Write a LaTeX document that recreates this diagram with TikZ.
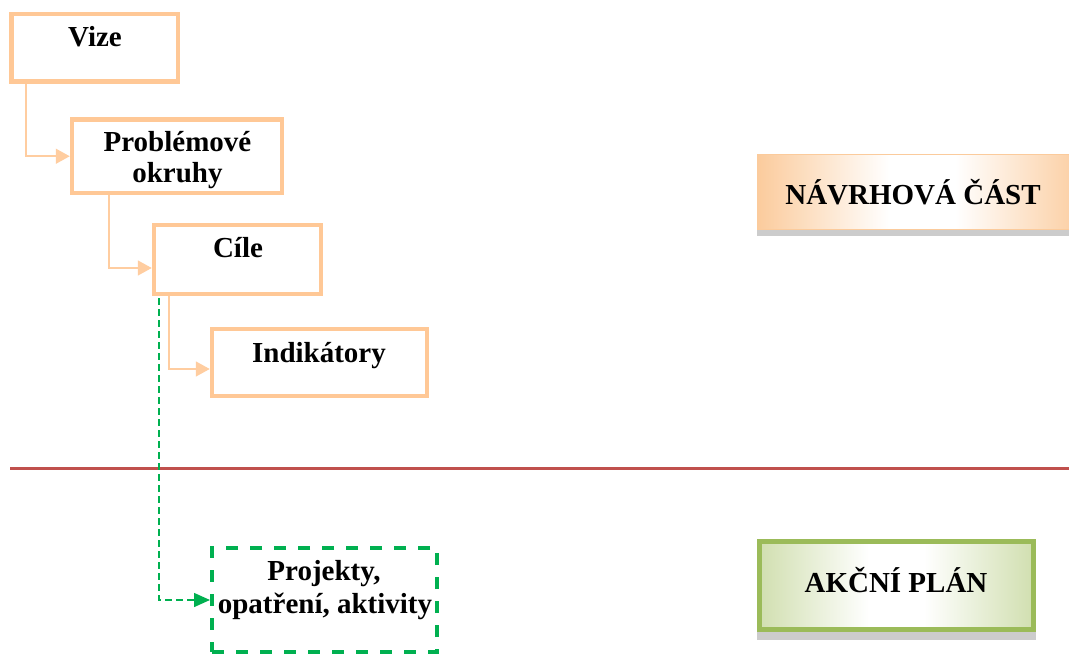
\documentclass[tikz,border=0pt]{standalone}
\usepackage{fontspec}
\setmainfont{Liberation Serif}
\usetikzlibrary{arrows.meta}
\definecolor{orbox}{RGB}{255,200,150}
\definecolor{orconn}{RGB}{255,205,160}
\definecolor{grdash}{RGB}{0,176,80}
\definecolor{redline}{RGB}{192,80,77}
\definecolor{orshade}{RGB}{251,203,156}
\definecolor{grborder}{RGB}{155,187,89}
\definecolor{grshade}{RGB}{209,223,176}
\pgfdeclarehorizontalshading{orshading}{100bp}{color(0bp)=(orshade); color(25bp)=(orshade); color(45bp)=(white); color(55bp)=(white); color(75bp)=(orshade); color(100bp)=(orshade)}
\pgfdeclarehorizontalshading{grshading}{100bp}{color(0bp)=(grshade); color(25bp)=(grshade); color(45bp)=(white); color(55bp)=(white); color(75bp)=(grshade); color(100bp)=(grshade)}
\tikzset{
  obox/.style={draw=orbox, line width=4.5pt, rectangle, inner sep=0pt, fill=white},
  gbox/.style={draw=grdash, line width=4pt, rectangle, inner sep=0pt, dash pattern=on 12pt off 12pt},
  txt/.style={anchor=base, inner sep=0pt, font=\fontsize{29}{31}\selectfont\bfseries, align=center},
  conn/.style={draw=orconn, line width=1.5pt, -{Triangle[length=14pt,width=15pt]}},
  gconn/.style={draw=grdash, line width=1.5pt, dash pattern=on 7pt off 4pt, -{Triangle[length=16pt,width=14pt]}},
  shadowstrip/.style={fill=gray!40},
}
\begin{document}
\begin{tikzpicture}[x=1pt,y=-1pt]
\clip (0,0) rectangle (1069,655);
\fill[white] (0,0) rectangle (1069,655);
% separator line
\draw[redline, line width=3pt] (10,468) -- (1069,468);
% boxes
\node[obox, minimum width=166.5pt, minimum height=67.5pt] (vize) at (94.75,47.75) {};
\node[obox, minimum width=210pt, minimum height=73.5pt] (prob) at (177,156.25) {};
\node[obox, minimum width=167pt, minimum height=69pt] (cile) at (237.5,259.5) {};
\node[obox, minimum width=215pt, minimum height=67pt] (indik) at (319.5,362.5) {};
\node[gbox, minimum width=225pt, minimum height=104pt] (proj) at (324.5,600) {};
% texts
\node[txt] (tvize) at (95,47) {Vize};
\node[txt] (tprob1) at (177.5,152) {Problémové};
\node[txt] (tprob2) at (177.5,183) {okruhy};
\node[txt] (tcile) at (238,258) {Cíle};
\node[txt] (tindik) at (319,362) {Indikátory};
\node[txt] (tproj1) at (324,580) {Projekty,};
\node[txt] (tproj2) at (325,613) {opatření, aktivity};
% connectors
\draw[conn] ([xshift=16.5pt]vize.south west) |- (prob.west);
\draw[conn] ([xshift=39pt]prob.south west) |- ([yshift=-8.5pt]cile.west);
\draw[conn] ([xshift=17pt]cile.south west) |- ([yshift=-6.5pt]indik.west);
\draw[gconn] ([xshift=7pt,yshift=-2pt]cile.south west) |- (proj.west);
% side labels
\fill[shadowstrip] (757,230) rectangle (1069,236);
\node[draw=orshade, line width=1pt, rectangle, inner sep=0pt, minimum width=330pt, minimum height=75pt,
  shading=orshading] (navrh) at (922,192.5) {};
\node[txt] (tnavrh) at (913,205) {NÁVRHOVÁ ČÁST};
\fill[shadowstrip] (757,632) rectangle (1036,640);
\node[draw=grborder, line width=5pt, rectangle, inner sep=0pt, minimum width=274pt, minimum height=88pt,
  shading=grshading] (akcni) at (896.5,585.5) {};
\node[txt] (takcni) at (896,592) {AKČNÍ PLÁN};
\end{tikzpicture}
\end{document}
